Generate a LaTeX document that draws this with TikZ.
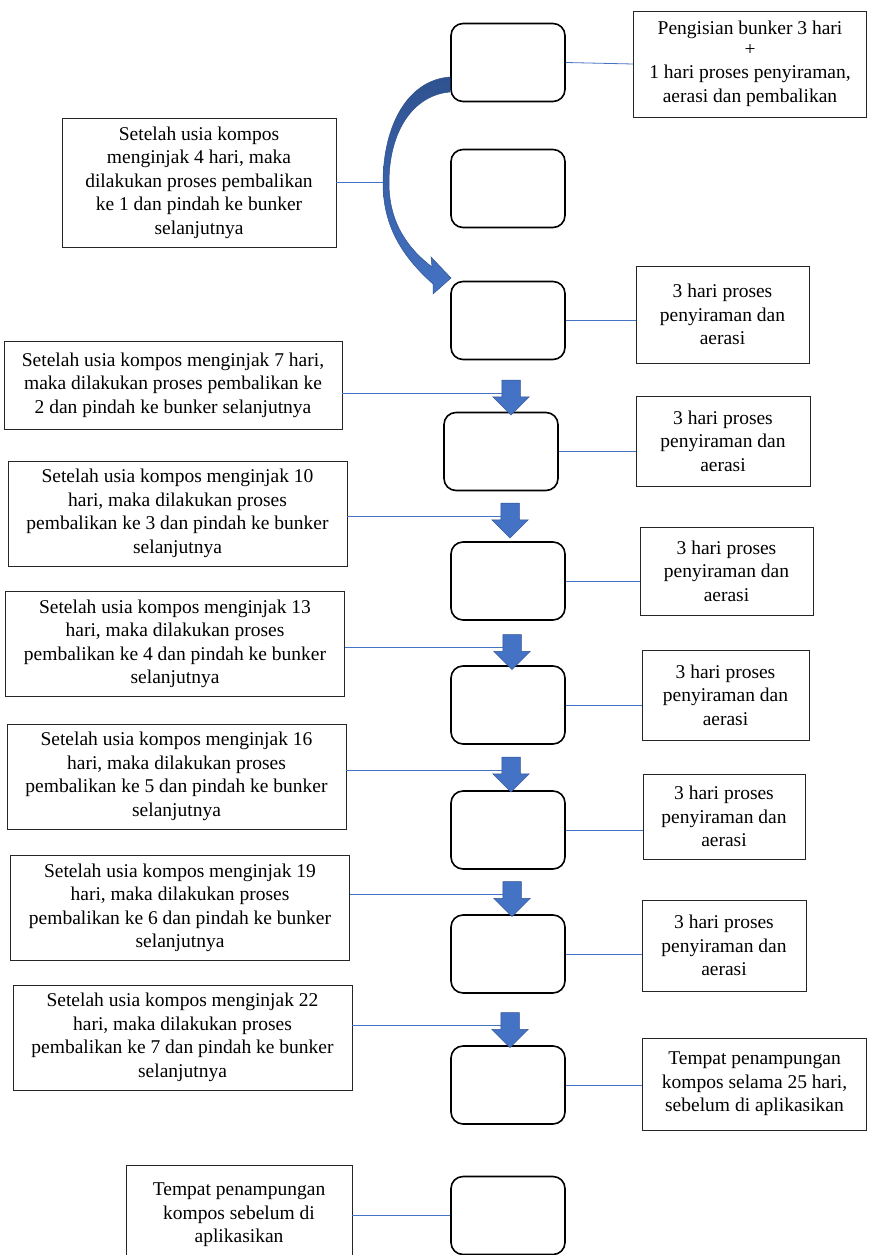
\documentclass[tikz,border=0pt]{standalone}
\usepackage{fontspec}
\setmainfont{Liberation Serif}
\usetikzlibrary{shapes.arrows}
\definecolor{garis}{RGB}{68,114,196}
\definecolor{garisgelap}{RGB}{47,82,143}
\tikzset{
  bunker/.style={rectangle, rounded corners=12pt, draw, line width=1.6pt, minimum width=114pt, minimum height=78pt, inner sep=0pt},
  ket/.style={rectangle, draw=black!85, line width=0.9pt, align=center, inner sep=0pt, font=\fontsize{19.5}{23.5}\selectfont},
  hub/.style={draw=garis, line width=0.8pt},
  panah/.style={single arrow, rotate=-90, fill=garis, draw=garisgelap, line width=0.5pt, minimum height=35pt, single arrow head extend=9pt, inner xsep=0pt, inner ysep=9pt}
}
\begin{document}
\begin{tikzpicture}[x=1pt, y=-1pt]
      \useasboundingbox (0,0) rectangle (868,1255);

      % bunker
      \foreach \n/\x/\y in {1/508/62.5, 2/508/188.5, 3/508/320.5, 4/501/451.5, 5/508/581,
                            6/508/705, 7/508/830, 8/508/954, 9/508/1085, 10/508/1215.5}
        \node[bunker] (b\n) at (\x,\y) {};

      % keterangan kanan
      \node[ket, minimum width=233pt, minimum height=106pt] (r1) at (750,64)
        {Pengisian bunker 3 hari\\[-3pt]+\\1 hari proses penyiraman,\\aerasi dan pembalikan};
      \foreach \n/\x/\y/\w/\h in {3/722.5/314.5/173/97, 4/723/441/174/90, 5/726.5/571/173/88,
                                  6/725.5/695/167/90, 7/724/816.5/162/85, 8/724/945.5/164/91}
        \node[ket, minimum width=\w pt, minimum height=\h pt] (r\n) at (\x,\y)
          {3 hari proses\\penyiraman dan\\aerasi};
      \node[ket, minimum width=224pt, minimum height=92pt] (r9) at (754.5,1084)
        {Tempat penampungan\\kompos selama 25 hari,\\sebelum di aplikasikan};

      % keterangan kiri
      \node[ket, minimum width=274pt, minimum height=129pt] (l2) at (199,182.5)
        {Setelah usia kompos\\menginjak 4 hari, maka\\dilakukan proses pembalikan\\ke 1 dan pindah ke bunker\\selanjutnya};
      \node[ket, minimum width=338pt, minimum height=88pt] (l4) at (173,385)
        {Setelah usia kompos menginjak 7 hari,\\maka dilakukan proses pembalikan ke\\2 dan pindah ke bunker selanjutnya};
      \foreach \n/\x/\y/\hari/\ke in {5/177.5/513.5/10/3, 6/175/644/13/4, 7/176.5/776.5/16/5,
                                       8/180/908/19/6, 9/182.5/1037.5/22/7}
        \node[ket, minimum width=339pt, minimum height=105pt] (l\n) at (\x,\y)
          {Setelah usia kompos menginjak \hari\\hari, maka dilakukan proses\\pembalikan ke \ke{} dan pindah ke bunker\\selanjutnya};
      \node[ket, minimum width=226pt, minimum height=100pt] (l10) at (239,1215)
        {Tempat penampungan\\kompos sebelum di\\aplikasikan};

      % garis penghubung
      \draw[hub] (b1.east) -- (r1.west);
      \foreach \n in {3,...,8}
        \draw[hub] (b\n.east) -- (b\n.east -| r\n.west);
      \draw[hub] (b9.east) -- (b9.east -| r9.west);
      \draw[hub] (l10.east) -- (l10.east -| b10.west);

      % panah pindah bunker
      \foreach \n/\x/\y in {4/511/393, 5/510/516, 6/512/647.5, 7/511/770, 8/512/894.5, 9/510/1025.5}
        \coordinate (c\n) at (\x,\y);
      \foreach \n in {4,...,9}
        \draw[hub] (c\n -| l\n.east) -- (c\n);
      \foreach \n in {4,...,9}
        \node[panah] (a\n) at (c\n) {};

      % panah lengkung bunker 1 ke 3
      \coordinate (lengkung) at (383,185);
      \draw[hub] (l2.east) -- (l2.east -| lengkung);
      \path[top color=garisgelap, bottom color=garis, draw=garisgelap, line width=0.5pt]
        (450,77) .. controls (408,80) and (383,125) .. (383,183)
        .. controls (383,228) and (404,258) .. (433,284)
        -- (433,294) -- (451,278) -- (431,257) -- (432,267)
        .. controls (410,250) and (389,225) .. (389,183)
        .. controls (389,130) and (414,95) .. (450,92) -- cycle;
    \end{tikzpicture}
\end{document}
